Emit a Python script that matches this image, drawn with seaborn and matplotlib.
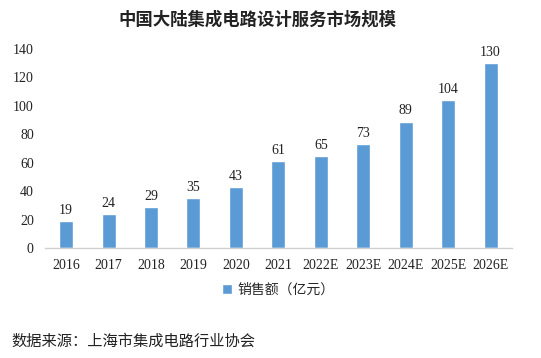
import pandas as pd
import matplotlib.pyplot as plt
import seaborn as sns

# Data
years = ['2016', '2017', '2018', '2019', '2020', '2021',
         '2022E', '2023E', '2024E', '2025E', '2026E']
sales = [19, 24, 29, 35, 43, 61, 65, 73, 89, 104, 130]

df = pd.DataFrame({'year': years, 'sales': sales})

sns.set_style('white')
plt.rcParams['font.family'] = ['Liberation Serif', 'Noto Sans CJK SC', 'DejaVu Sans']

fig = plt.figure(figsize=(5.41, 3.58), dpi=100)
ax = fig.add_axes([0.083, 0.307, 0.863, 0.556])

sns.barplot(data=df, x='year', y='sales', color='#5B9BD5', saturation=1,
            width=0.33, label='销售额（亿元）', ax=ax)

for c in ax.containers:
    ax.bar_label(c, padding=3, fontsize=10, color='#222222')

ax.set_ylim(0, 140)
ax.set_yticks(range(0, 141, 20))
ax.set_xlabel('')
ax.set_ylabel('')
ax.tick_params(axis='both', labelsize=10, colors='#222222', length=0, pad=8)
for s in ['top', 'right', 'left']:
    ax.spines[s].set_visible(False)
ax.spines['bottom'].set_color('#D0D0D0')
ax.spines['bottom'].set_linewidth(1)

ax.legend(loc='center', bbox_to_anchor=(0.5, -0.21), frameon=False,
          fontsize=10, handlelength=0.7, handleheight=0.7, handletextpad=0.4)

fig.text(0.475, 0.945, '中国大陆集成电路设计服务市场规模', ha='center', va='center',
         fontsize=12.5, fontweight='bold', color='#222222')
fig.text(0.022, 0.045, '数据来源：上海市集成电路行业协会', ha='left', va='center',
         fontsize=11, color='#222222')

fig.savefig('out.png', dpi=100)
